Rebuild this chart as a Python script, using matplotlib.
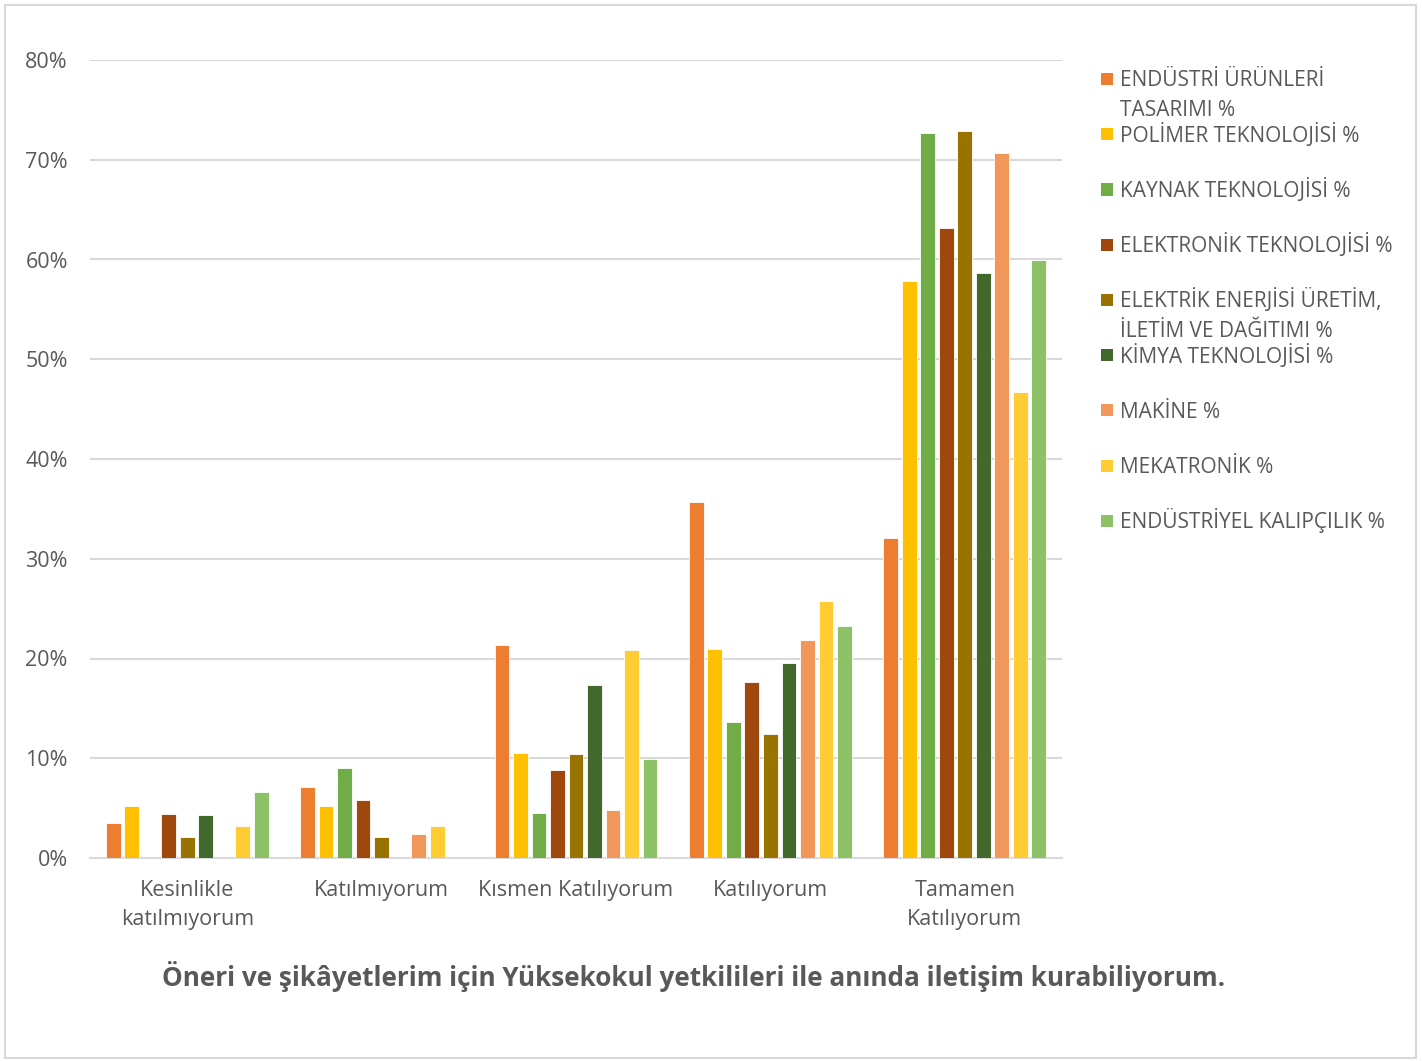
import matplotlib
matplotlib.use("Agg")
import matplotlib.pyplot as plt
from matplotlib.patches import Rectangle
from matplotlib.ticker import PercentFormatter
import numpy as np

plt.rcParams['font.family'] = ['Open Sans', 'DejaVu Sans']

categories = ["Kesinlikle\nkatılmıyorum", "Katılmıyorum", "Kısmen Katılıyorum",
              "Katılıyorum", "Tamamen\nKatılıyorum"]

series_names = [
    "ENDÜSTRİ ÜRÜNLERİ\nTASARIMI %",
    "POLİMER TEKNOLOJİSİ %",
    "KAYNAK TEKNOLOJİSİ %",
    "ELEKTRONİK TEKNOLOJİSİ %",
    "ELEKTRİK ENERJİSİ ÜRETİM,\nİLETİM VE DAĞITIMI %",
    "KİMYA TEKNOLOJİSİ %",
    "MAKİNE %",
    "MEKATRONİK %",
    "ENDÜSTRİYEL KALIPÇILIK %",
]

colors = ["#ED7D31", "#FFC000", "#70AD47", "#9E480E", "#997300",
          "#43682B", "#F1975A", "#FFCD33", "#8CC168"]

endustri_urunleri = [0.035, 0.071, 0.2135, 0.3565, 0.321]
polimer = [0.052, 0.052, 0.105, 0.2095, 0.578]
kaynak = [0.0, 0.0905, 0.045, 0.136, 0.7265]
elektronik = [0.044, 0.058, 0.088, 0.176, 0.632]
elektrik = [0.021, 0.021, 0.104, 0.1245, 0.7285]
kimya = [0.043, 0.0, 0.1735, 0.195, 0.586]
makine = [0.0, 0.024, 0.0485, 0.2185, 0.7065]
mekatronik = [0.032, 0.032, 0.209, 0.2575, 0.467]
kalipcilik = [0.066, 0.0, 0.0995, 0.233, 0.5995]

series_values = [endustri_urunleri, polimer, kaynak, elektronik, elektrik,
                 kimya, makine, mekatronik, kalipcilik]

title = "Öneri ve şikâyetlerim için Yüksekokul yetkilileri ile anında iletişim kurabiliyorum."

W, H = 1422, 1061
fig = plt.figure(figsize=(W / 100, H / 100), dpi=100)
fig.patch.set_facecolor("white")

text_color = "#595959"
grid_color = "#D9D9D9"

# outer border
fig.patches.append(Rectangle((5 / W, 1 - 1058 / H), (1416 - 5) / W, (1058 - 5) / H,
                             transform=fig.transFigure, fill=False,
                             edgecolor=grid_color, linewidth=1.5))

ax = fig.add_axes([90 / W, 1 - 858 / H, (1062 - 90) / W, (858 - 60) / H])

x = np.arange(len(categories))
pitch = 0.0952
n = len(series_names)
for i, (vals, c) in enumerate(zip(series_values, colors)):
    offs = (i - (n - 1) / 2) * pitch
    ax.bar(x + offs, vals, width=pitch * 0.8, color=c, zorder=3,
           edgecolor="white", linewidth=0.6)

ax.set_xlim(-0.5, len(categories) - 0.5)
ax.set_ylim(0, 0.8)
ax.set_yticks(np.arange(0, 0.81, 0.1))
ax.yaxis.set_major_formatter(PercentFormatter(1.0, decimals=0))
ax.set_xticks(x)
ax.set_xticklabels(categories, linespacing=1.5)
ax.tick_params(axis="both", length=0, labelsize=15.5, colors=text_color)
ax.tick_params(axis="y", pad=16)
ax.tick_params(axis="x", pad=16)
ax.grid(axis="y", color=grid_color, linewidth=1.5, zorder=0)
for s in ["top", "right", "left"]:
    ax.spines[s].set_visible(False)
ax.spines["bottom"].set_color(grid_color)
ax.spines["bottom"].set_linewidth(1.5)
ax.set_facecolor("white")

# legend (Excel-style equal slots)
for i, (name, c) in enumerate(zip(series_names, colors)):
    ypix = 79 + 55.25 * i
    fig.patches.append(Rectangle((1101 / W, 1 - (ypix + 6) / H), 12 / W, 12 / H,
                                 transform=fig.transFigure, facecolor=c,
                                 edgecolor="none"))
    for k, line in enumerate(name.split("\n")):
        fig.text(1120 / W, 1 - (ypix + 7.5 + 29 * k) / H, line, fontsize=15,
                 color=text_color, va="baseline", ha="left")

fig.text(694 / W, 1 - 976 / H, title, fontsize=18.8, fontweight="bold",
         color=text_color, ha="center", va="center")

fig.savefig("out.png", dpi=100)
